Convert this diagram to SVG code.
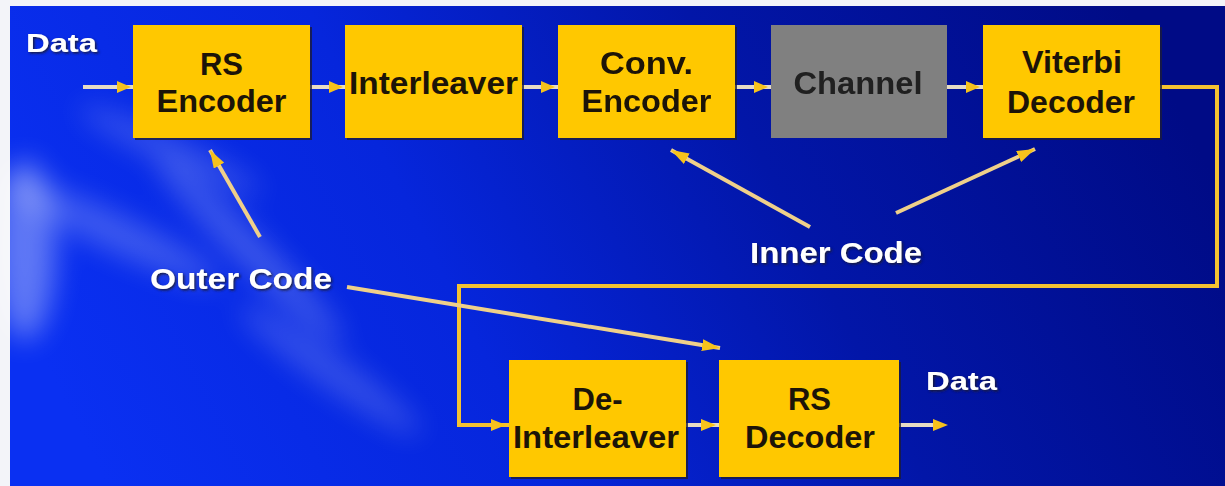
<svg xmlns="http://www.w3.org/2000/svg" width="1225" height="486" viewBox="0 0 1225 486">
  <defs>
    <linearGradient id="bg" x1="0" y1="0.6" x2="1" y2="0.4">
      <stop offset="0" stop-color="#0a30f2"/>
      <stop offset="0.35" stop-color="#0626dc"/>
      <stop offset="0.65" stop-color="#0216a8"/>
      <stop offset="1" stop-color="#000b86"/>
    </linearGradient>
    <filter id="haze" x="-50%" y="-50%" width="200%" height="200%">
      <feGaussianBlur stdDeviation="14"/>
    </filter>
    <filter id="lbl" x="-10%" y="-30%" width="120%" height="160%">
      <feDropShadow dx="1.5" dy="1.5" stdDeviation="0.8" flood-color="#1a1a30" flood-opacity="0.9"/>
    </filter>
    <marker id="ah" viewBox="0 0 18 12" refX="18" refY="6" markerWidth="18" markerHeight="12" markerUnits="userSpaceOnUse" orient="auto">
      <path d="M0,0 L18,6 L0,12 Z" fill="#f6c21c"/>
    </marker>
    <style>
      .box { fill: #ffc800; }
      .shadow { fill: #1c1c3a; opacity: 0.8; }
      .grey { fill: #808080; }
      .bt { font-family: "Liberation Sans", Arial, sans-serif; font-weight: bold; font-size: 31px; fill: #1c1408; text-anchor: middle; }
      .ct { fill: #202020; }
      .lb { font-family: "Liberation Sans", Arial, sans-serif; font-weight: bold; fill: #ffffff; filter: url(#lbl); }
      .ln { fill: none; stroke: #efd08a; stroke-width: 4; }
      .lp { fill: none; stroke: #e6dcc4; stroke-width: 4; }
      .fb { fill: none; stroke: #f4c232; stroke-width: 4; }
    </style>
  </defs>

  <!-- page margin and backdrop -->
  <rect x="0" y="0" width="1225" height="486" fill="#f3f4f9"/>
  <rect x="10" y="6" width="1215" height="480" fill="url(#bg)"/>

  <!-- soft light swirl on the left -->
  <g filter="url(#haze)" fill="#ffffff">
    <ellipse cx="25" cy="250" rx="30" ry="90" opacity="0.35"/>
    <ellipse cx="110" cy="230" rx="120" ry="18" transform="rotate(25 110 230)" opacity="0.22"/>
    <ellipse cx="250" cy="250" rx="130" ry="16" transform="rotate(45 250 250)" opacity="0.22"/>
    <ellipse cx="330" cy="370" rx="110" ry="16" transform="rotate(35 330 370)" opacity="0.18"/>
    <ellipse cx="170" cy="150" rx="100" ry="14" transform="rotate(25 170 150)" opacity="0.18"/>
  </g>

  <!-- connectors -->
  <g id="connectors">
    <line class="lp" x1="83" y1="87" x2="133" y2="87"/>
    <line class="lp" x1="310" y1="87" x2="345" y2="87"/>
    <line class="lp" x1="522" y1="87" x2="558" y2="87"/>
    <line class="lp" x1="735" y1="87" x2="771" y2="87"/>
    <line class="lp" x1="947" y1="87" x2="983" y2="87"/>
    <line class="lp" x1="686" y1="425" x2="719" y2="425"/>
    <line class="lp" x1="899" y1="425" x2="935" y2="425"/>
    <polyline class="fb" points="1160,87 1217,87 1217,286 459,286 459,425 509,425"/>
    <!-- arrowheads on the chain -->
    <g fill="#f6c21c">
      <path d="M117,81 L131,87 L117,93 Z"/>
      <path d="M329,81 L343,87 L329,93 Z"/>
      <path d="M541,81 L555,87 L541,93 Z"/>
      <path d="M754,81 L768,87 L754,93 Z"/>
      <path d="M966,81 L980,87 L966,93 Z"/>
      <path d="M491,419 L506,425 L491,431 Z"/>
      <path d="M701,419 L716,425 L701,431 Z"/>
      <path d="M933,419 L948,425 L933,431 Z"/>
    </g>
    <!-- code labels pointing at blocks -->
    <line class="ln" x1="260" y1="237" x2="210" y2="150" marker-end="url(#ah)"/>
    <line class="ln" x1="347" y1="287" x2="720" y2="348" marker-end="url(#ah)"/>
    <line class="ln" x1="810" y1="227" x2="671" y2="150" marker-end="url(#ah)"/>
    <line class="ln" x1="896" y1="213" x2="1035" y2="149" marker-end="url(#ah)"/>
  </g>

  <!-- blocks -->
  <g id="rs-encoder">
    <rect class="shadow" x="135" y="27" width="177" height="113"/>
    <rect class="box" x="133" y="25" width="177" height="113"/>
    <text class="bt" x="221.5" y="75">RS</text>
    <text class="bt" x="221.5" y="112" textLength="130" lengthAdjust="spacingAndGlyphs">Encoder</text>
  </g>
  <g id="interleaver">
    <rect class="shadow" x="347" y="27" width="177" height="113"/>
    <rect class="box" x="345" y="25" width="177" height="113"/>
    <text class="bt" x="433.5" y="94" textLength="169" lengthAdjust="spacingAndGlyphs">Interleaver</text>
  </g>
  <g id="conv-encoder">
    <rect class="shadow" x="560" y="27" width="177" height="113"/>
    <rect class="box" x="558" y="25" width="177" height="113"/>
    <text class="bt" x="646.5" y="74" textLength="93" lengthAdjust="spacingAndGlyphs">Conv.</text>
    <text class="bt" x="646.5" y="112" textLength="130" lengthAdjust="spacingAndGlyphs">Encoder</text>
  </g>
  <g id="channel">
    <rect class="grey" x="771" y="25" width="176" height="113"/>
    <text class="bt ct" x="858" y="94" textLength="129" lengthAdjust="spacingAndGlyphs">Channel</text>
  </g>
  <g id="viterbi-decoder">
    <rect class="shadow" x="985" y="27" width="177" height="113"/>
    <rect class="box" x="983" y="25" width="177" height="113"/>
    <text class="bt" x="1072" y="73" textLength="100" lengthAdjust="spacingAndGlyphs">Viterbi</text>
    <text class="bt" x="1071" y="113" textLength="128" lengthAdjust="spacingAndGlyphs">Decoder</text>
  </g>
  <g id="de-interleaver">
    <rect class="shadow" x="511" y="362" width="177" height="117"/>
    <rect class="box" x="509" y="360" width="177" height="117"/>
    <text class="bt" x="597.5" y="410">De-</text>
    <text class="bt" x="596" y="448" textLength="166" lengthAdjust="spacingAndGlyphs">Interleaver</text>
  </g>
  <g id="rs-decoder">
    <rect class="shadow" x="721" y="362" width="180" height="117"/>
    <rect class="box" x="719" y="360" width="180" height="117"/>
    <text class="bt" x="809.5" y="410">RS</text>
    <text class="bt" x="810" y="448" textLength="130" lengthAdjust="spacingAndGlyphs">Decoder</text>
  </g>

  <!-- labels -->
  <g id="labels">
    <text class="lb" x="26" y="52" font-size="25" textLength="71" lengthAdjust="spacingAndGlyphs">Data</text>
    <text class="lb" x="926" y="390" font-size="25" textLength="71" lengthAdjust="spacingAndGlyphs">Data</text>
    <text class="lb" x="150" y="289" font-size="30" textLength="182" lengthAdjust="spacingAndGlyphs">Outer Code</text>
    <text class="lb" x="750" y="263" font-size="29" textLength="172" lengthAdjust="spacingAndGlyphs">Inner Code</text>
  </g>
</svg>
